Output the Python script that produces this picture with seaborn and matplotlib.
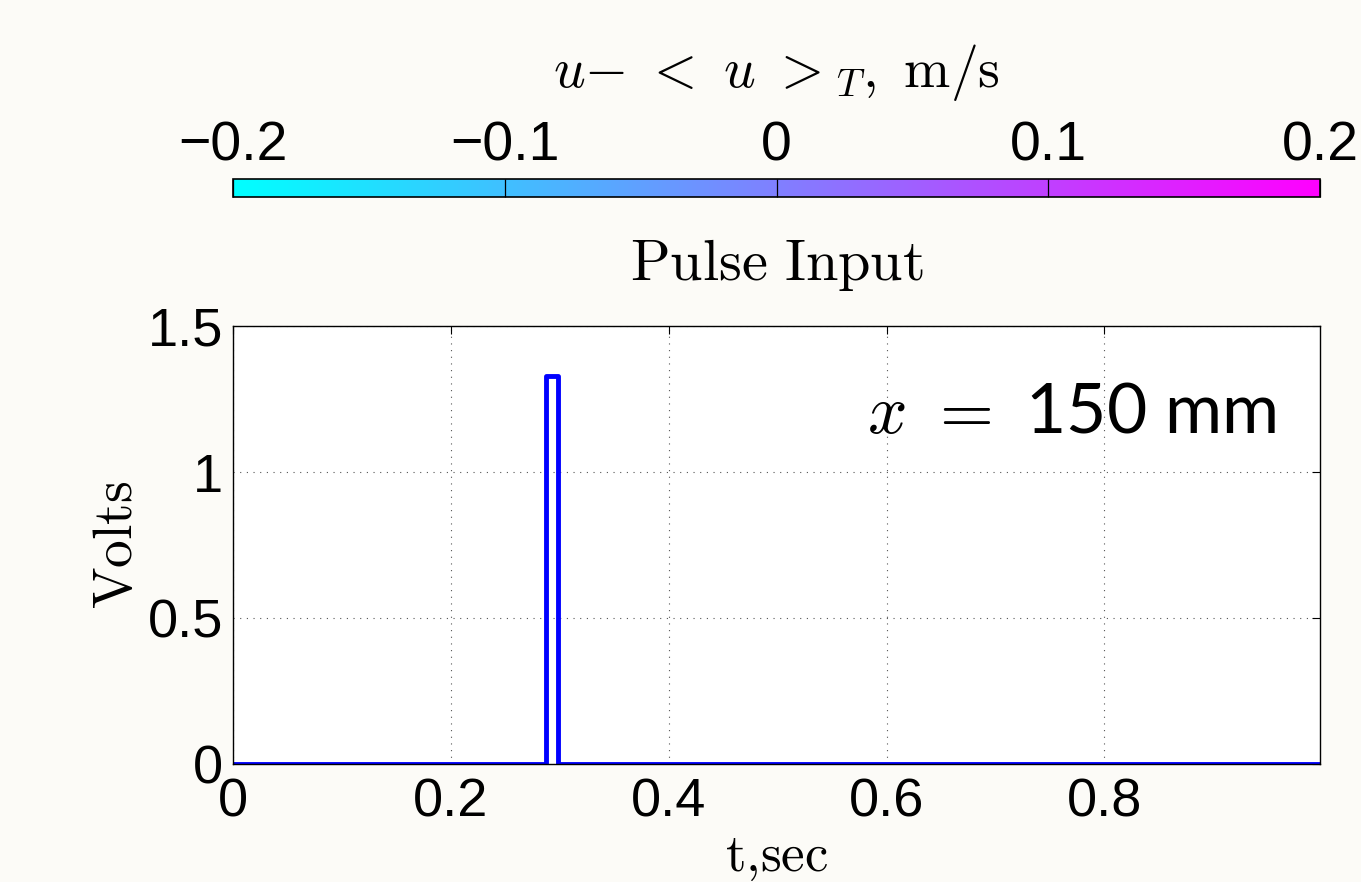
import numpy as np
import pandas as pd
import matplotlib
matplotlib.use("Agg")
import matplotlib.pyplot as plt
import seaborn as sns

# Pulse input signal (step-wise: value holds until next time point)
t_sec = [0.0, 0.287, 0.298, 0.998]
volts = [0.0, 1.33, 0.0, 0.0]

x_ticks = [0, 0.2, 0.4, 0.6, 0.8]
x_tick_labels = ["0", "0.2", "0.4", "0.6", "0.8"]
y_ticks = [0, 0.5, 1, 1.5]
y_tick_labels = ["0", "0.5", "1", "1.5"]
cbar_ticks = [-0.2, -0.1, 0, 0.1, 0.2]
cbar_tick_labels = ["\u22120.2", "\u22120.1", "0", "0.1", "0.2"]

sns.set_theme(style="white")
plt.rcParams["font.family"] = ["Liberation Sans", "DejaVu Sans"]
plt.rcParams["mathtext.fontset"] = "cm"

bg = "#fcfbf7"
fig = plt.figure(figsize=(13.61, 8.82), dpi=100, facecolor=bg)

W, H = 1361, 882
def rect(x0, y0, x1, y1):
    return [x0 / W, 1 - y1 / H, (x1 - x0) / W, (y1 - y0) / H]

ax = fig.add_axes(rect(233, 326, 1320, 764))
ax.set_facecolor("white")

df = pd.DataFrame({"t": t_sec, "v": volts})
sns.lineplot(data=df, x="t", y="v", ax=ax, color="#0000ff", linewidth=3.5,
             drawstyle="steps-post", sort=False, estimator=None)

ax.set_xlim(0, 0.998)
ax.set_ylim(0, 1.5)
ax.set_xticks(x_ticks)
ax.set_xticklabels(x_tick_labels)
ax.set_yticks(y_ticks)
ax.set_yticklabels(y_tick_labels)
ax.set_axisbelow("line")
ax.tick_params(axis="both", labelsize=39, direction="in", length=6, width=0.8,
               color="black", top=True, right=True, labelcolor="black")
ax.tick_params(axis="x", pad=10)
ax.tick_params(axis="y", pad=7)
ax.grid(True, linestyle=(0, (1, 5)), color="#555555", linewidth=0.8)
for s in ax.spines.values():
    s.set_visible(True)
    s.set_color("black")
    s.set_linewidth(1.0)

ax.set_xlabel(r"$\mathrm{t{,}sec}$", fontsize=38, labelpad=4, color="black")
ax.set_ylabel(r"$\mathrm{Volts}$", fontsize=40, labelpad=3, color="black")
ax.set_title(r"$\mathrm{Pulse\ Input}$", fontsize=42, pad=33, color="black")

ax.text(0.96, 0.80, r"$x\ =\ $150 mm", transform=ax.transAxes, ha="right",
        va="center", fontsize=50, family=["Lato", "DejaVu Sans"], color="black")

# Colorbar
cax = fig.add_axes(rect(233, 179, 1320, 197))
sm = plt.cm.ScalarMappable(cmap="cool", norm=plt.Normalize(-0.2, 0.2))
cb = fig.colorbar(sm, cax=cax, orientation="horizontal", ticklocation="top")
cb.set_ticks(cbar_ticks)
cb.set_ticklabels(cbar_tick_labels)
cax.set_axisbelow(False)
cax.tick_params(axis="x", labelsize=40, direction="in", length=13, width=0.9,
                color="black", pad=5, labelcolor="black",
                top=True, bottom=False, labeltop=True, labelbottom=False)
cb.outline.set_linewidth(1.2)
cb.outline.set_edgecolor("black")
cb.set_label(r"$u{-}\ <\ u\ >_T\mathrm{,\ m/s}$", fontsize=40, labelpad=24,
             color="black")

fig.savefig("out.png", dpi=100, facecolor=bg)
